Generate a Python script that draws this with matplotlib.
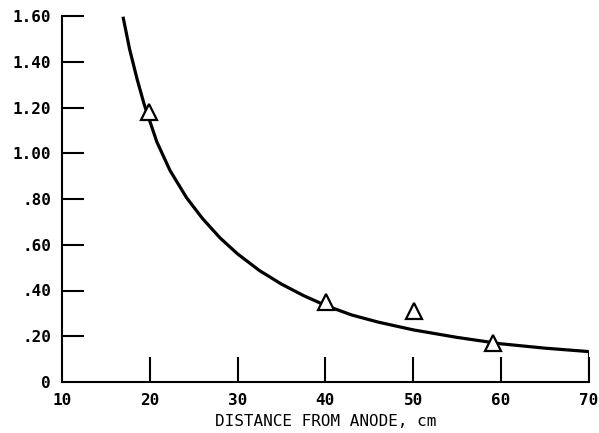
import matplotlib
matplotlib.use("Agg")
import matplotlib.pyplot as plt

# curve
curve_x = [16.95, 17.7, 18.55, 19.35, 20.8, 22.3, 24.2, 26.0, 28.0, 30.0,
           32.5, 35.0, 37.5, 40.0, 43.0, 46.0, 50.0, 55.0, 60.0, 65.0, 70.0]
curve_y = [1.597, 1.455, 1.325, 1.215, 1.050, 0.925, 0.805, 0.715, 0.630, 0.560,
           0.487, 0.428, 0.378, 0.335, 0.293, 0.262, 0.228, 0.195, 0.167, 0.148, 0.133]

# measured points (open triangles)
pts_x = [19.9, 40.1, 50.1, 59.1]
pts_y = [1.18, 0.35, 0.31, 0.17]

x_ticks = [10, 20, 30, 40, 50, 60, 70]
x_labels = ["10", "20", "30", "40", "50", "60", "70"]
y_ticks = [0, 0.2, 0.4, 0.6, 0.8, 1.0, 1.2, 1.4, 1.6]
y_labels = ["0", ".20", ".40", ".60", ".80", "1.00", "1.20", "1.40", "1.60"]

plt.rcParams['font.family'] = ['DejaVu Sans Mono']
plt.rcParams['font.weight'] = 'bold'

fig = plt.figure(figsize=(5.99, 4.33), dpi=100)
ax = fig.add_axes([62 / 599, 51 / 433, 526.7 / 599, 366 / 433])

ax.plot(curve_x, curve_y, color='black', lw=2.3, solid_joinstyle='round',
        solid_capstyle='butt', zorder=2)
ax.plot([70, 70], [0, curve_y[-1]], color='black', lw=1.5, zorder=2)
ax.plot(pts_x, pts_y, ls='none', marker='^', ms=11, mfc='white',
        mec='black', mew=1.6, zorder=3)

ax.set_xlim(10, 70)
ax.set_ylim(0, 1.6)

ax.set_xticks(x_ticks)
ax.set_xticklabels(x_labels)
ax.set_yticks(y_ticks)
ax.set_yticklabels(y_labels)

ax.tick_params(axis='x', direction='in', length=18, width=1.5, pad=8,
               labelsize=11.5)
ax.tick_params(axis='y', direction='in', length=16, width=1.5, pad=8,
               labelsize=11.5)
# no visible tick marks at the origin
ax.xaxis.get_major_ticks()[0].tick1line.set_visible(False)
ax.yaxis.get_major_ticks()[0].tick1line.set_visible(False)

for side in ['top', 'right']:
    ax.spines[side].set_visible(False)
for side in ['left', 'bottom']:
    ax.spines[side].set_linewidth(1.5)

ax.set_xlabel('DISTANCE FROM ANODE, cm', fontsize=11.5, labelpad=4)

fig.savefig("out.png", dpi=100)
